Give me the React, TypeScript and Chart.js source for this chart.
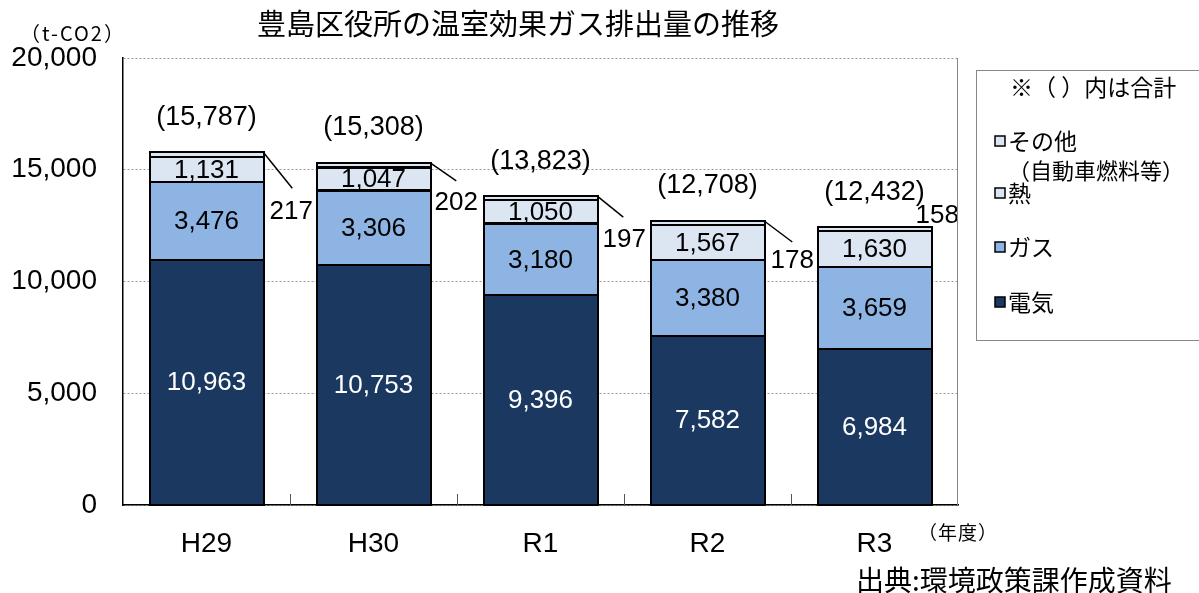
import React, { useEffect, useRef } from 'react';
import { Chart, registerables } from 'chart.js';

Chart.register(...registerables);

const FONT = "'Liberation Sans', Arial, 'Noto Sans CJK JP', sans-serif";
const JFONT = "'Noto Sans CJK JP', 'Liberation Sans', sans-serif";

// ---- data ----
const categories = ['H29', 'H30', 'R1', 'R2', 'R3'];
const electricity = [10963, 10753, 9396, 7582, 6984];
const gas = [3476, 3306, 3180, 3380, 3659];
const heat = [1131, 1047, 1050, 1567, 1630];
const other = [217, 202, 197, 178, 158];
const totals = [15787, 15308, 13823, 12708, 12432];
const yTicks = [0, 5000, 10000, 15000, 20000];
const seriesNames = ['電気', 'ガス', '熱', 'その他'];

// ---- styles / annotation layout ----
const COLORS = ['#1B3860', '#8DB4E2', '#DCE6F2', '#DCE6F2'];
const otherLabelLayout = [
  { line: true, lx: 29, ly: 36, tx: 28, ty: 60 },
  { line: true, lx: 26, ly: 18, tx: 26, ty: 40 },
  { line: true, lx: 26, ly: 21, tx: 27, ty: 44 },
  { line: true, lx: 28, ly: 21, tx: 28, ty: 40 },
  { line: false, lx: 0, ly: 0, tx: 6, ty: -11 },
];

const fmt = (v: number) => v.toLocaleString('en-US');

const annotPlugin = {
  id: 'annot',
  afterDatasetsDraw(chart: any) {
    const ctx = chart.ctx as CanvasRenderingContext2D;
    const metas = [0, 1, 2, 3].map((i) => chart.getDatasetMeta(i));
    const series = [electricity, gas, heat, other];
    ctx.save();
    // outlines of segments (single 2px line on shared edges)
    ctx.strokeStyle = '#000';
    ctx.lineWidth = 2;
    for (let d = 0; d < 4; d++) {
      for (const el of metas[d].data as any[]) {
        const l = el.x - el.width / 2;
        const top = Math.min(el.y, el.base);
        const h = Math.abs(el.base - el.y);
        ctx.strokeRect(Math.round(l), Math.round(top), Math.round(el.width), Math.round(h));
      }
    }
    ctx.textAlign = 'center';
    ctx.textBaseline = 'middle';
    for (let i = 0; i < categories.length; i++) {
      ctx.font = `26px ${FONT}`;
      for (let d = 0; d < 3; d++) {
        const el: any = metas[d].data[i];
        const cy = (el.y + el.base) / 2;
        ctx.fillStyle = d === 0 ? '#ffffff' : '#000000';
        ctx.fillText(fmt(series[d][i]), el.x, cy + 1);
      }
      const top: any = metas[3].data[i];
      const rx = top.x + top.width / 2;
      const ty = top.y;
      const o = otherLabelLayout[i];
      if (o.line) {
        ctx.beginPath();
        ctx.moveTo(rx, ty);
        ctx.lineTo(rx + o.lx, ty + o.ly);
        ctx.strokeStyle = '#000';
        ctx.lineWidth = 1.5;
        ctx.stroke();
      }
      ctx.fillStyle = '#000';
      ctx.fillText(fmt(other[i]), rx + o.tx, ty + o.ty);
      ctx.font = `27px ${FONT}`;
      ctx.fillText(`(${fmt(totals[i])})`, top.x, ty - 35);
    }
    ctx.restore();
  },
  afterDraw(chart: any) {
    const ctx = chart.ctx as CanvasRenderingContext2D;
    const area = chart.chartArea;
    ctx.save();
    // right border of plot area
    ctx.strokeStyle = '#888';
    ctx.lineWidth = 1;
    ctx.beginPath();
    ctx.moveTo(Math.round(area.right) - 0.5, area.top);
    ctx.lineTo(Math.round(area.right) - 0.5, area.bottom);
    ctx.stroke();
    // x tick marks between categories
    const cw = (area.right - area.left) / categories.length;
    ctx.strokeStyle = '#555';
    for (let i = 1; i < categories.length; i++) {
      const x = Math.round(area.left + i * cw) + 0.5;
      ctx.beginPath();
      ctx.moveTo(x, area.bottom);
      ctx.lineTo(x, area.bottom - 11);
      ctx.stroke();
    }
    // title & texts
    ctx.fillStyle = '#000';
    ctx.textBaseline = 'middle';
    ctx.textAlign = 'center';
    ctx.font = `29px ${JFONT}`;
    ctx.fillText('豊島区役所の温室効果ガス排出量の推移', 518, 24);
    ctx.textAlign = 'left';
    ctx.font = `20px ${JFONT}`;
    (ctx as any).letterSpacing = '2px';
    ctx.fillText('（t-CO2）', 20, 33);
    ctx.font = `19px ${JFONT}`;
    (ctx as any).letterSpacing = '1px';
    ctx.fillText('（年度）', 918, 533);
    (ctx as any).letterSpacing = '0px';
    ctx.font = `28px ${JFONT}`;
    ctx.fillText('出典:環境政策課作成資料', 856, 580);
    // legend box
    ctx.strokeStyle = '#888';
    ctx.lineWidth = 1;
    ctx.strokeRect(976.5, 70.5, 240, 270);
    ctx.font = `23px ${JFONT}`;
    ctx.fillStyle = '#000';
    ctx.fillText('※（ ）内は合計', 1010, 87);
    const items = [
      { idx: 3, y: 141, label: 'その他' },
      { idx: 2, y: 193, label: '熱' },
      { idx: 1, y: 247, label: 'ガス' },
      { idx: 0, y: 302, label: '電気' },
    ];
    for (const it of items) {
      ctx.fillStyle = COLORS[it.idx];
      ctx.fillRect(995, it.y - 5, 10, 10);
      ctx.strokeStyle = '#000';
      ctx.lineWidth = 1.5;
      ctx.strokeRect(995, it.y - 5, 10, 10);
      ctx.fillStyle = '#000';
      ctx.fillText(it.label, 1008, it.y);
    }
    ctx.font = `22px ${JFONT}`;
    ctx.fillText('（自動車燃料等）', 1008, 171);
    ctx.restore();
  },
};

export default function App() {
  const ref = useRef<HTMLCanvasElement>(null);
  useEffect(() => {
    const canvas = ref.current!;
    const series = [electricity, gas, heat, other];
    const chart = new Chart(canvas, {
      type: 'bar',
      data: {
        labels: categories,
        datasets: series.map((s, i) => ({
          label: seriesNames[i],
          data: s,
          backgroundColor: COLORS[i],
          borderWidth: 0,
          barPercentage: 0.68,
          categoryPercentage: 1,
        })),
      },
      options: {
        responsive: false,
        animation: false,
        layout: { padding: { left: 0, right: 241, top: 58, bottom: 0 } },
        plugins: {
          legend: { display: false },
          title: { display: false },
          tooltip: { enabled: false },
        },
        scales: {
          x: {
            stacked: true,
            grid: { display: false, drawTicks: false },
            border: { display: true, color: '#000', width: 1.5 },
            ticks: { font: { size: 28, family: FONT }, color: '#000', padding: 22 },
            afterFit: (s: any) => {
              s.height = 88;
            },
          },
          y: {
            stacked: true,
            min: 0,
            max: 20000,
            afterBuildTicks: (s: any) => {
              s.ticks = yTicks.map((v) => ({ value: v }));
            },
            ticks: {
              font: { size: 28, family: FONT },
              color: '#000',
              padding: 26,
              callback: (v: any) => fmt(Number(v)),
            },
            grid: { color: '#999', drawTicks: false, lineWidth: 1 },
            border: { display: true, color: '#000', width: 1.5, dash: [2, 2] },
            afterFit: (s: any) => {
              s.width = 123;
            },
          },
        },
      },
      plugins: [annotPlugin],
    });
    return () => chart.destroy();
  }, []);
  return (
    <div style={{ position: 'absolute', left: 0, top: 0, width: 1199, height: 593, background: '#fff' }}>
      <canvas ref={ref} width={1199} height={593} style={{ display: 'block' }} />
    </div>
  );
}
